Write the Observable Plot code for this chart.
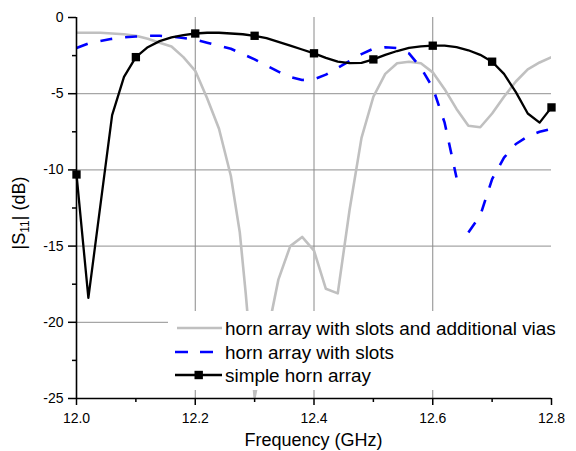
<!DOCTYPE html>
<html><head><meta charset="utf-8">
<script src="https://cdn.jsdelivr.net/npm/d3@7"></script>
<script src="https://cdn.jsdelivr.net/npm/@observablehq/plot@0.6"></script>
<style>
body{margin:0;background:#fff;}
#chart{width:576px;height:451px;}
</style></head><body><div id="chart"></div>
<script>
// ---- data ----
const freqSimple = [12.00,12.02,12.04,12.06,12.08,12.10,12.12,12.14,12.16,12.18,12.20,12.22,12.24,12.26,12.28,12.30,12.32,12.34,12.36,12.38,12.40,12.42,12.44,12.46,12.48,12.50,12.52,12.54,12.56,12.58,12.60,12.62,12.64,12.66,12.68,12.70,12.72,12.74,12.76,12.78,12.80];
const s11Simple  = [-10.3,-18.4,-12.4,-6.4,-3.9,-2.6,-1.95,-1.55,-1.3,-1.15,-1.05,-1.0,-1.0,-1.05,-1.1,-1.2,-1.35,-1.6,-1.85,-2.1,-2.35,-2.65,-2.9,-3.0,-2.98,-2.75,-2.45,-2.2,-2.0,-1.9,-1.85,-1.85,-1.95,-2.15,-2.45,-2.9,-3.7,-4.9,-6.3,-6.9,-5.9];
const markerFreqs = [12.0,12.1,12.2,12.3,12.4,12.5,12.6,12.7,12.8];

const freqSlots = [12.00,12.02,12.04,12.06,12.08,12.10,12.12,12.14,12.16,12.18,12.20,12.22,12.24,12.26,12.28,12.30,12.32,12.34,12.36,12.38,12.40,12.42,12.44,12.46,12.48,12.50,12.52,12.54,12.56,12.58,12.60,12.62,12.64,12.65,12.66,12.68,12.70,12.72,12.74,12.76,12.78,12.80];
const s11Slots  = [-2.0,-1.7,-1.55,-1.4,-1.3,-1.25,-1.2,-1.2,-1.25,-1.35,-1.45,-1.65,-1.85,-2.05,-2.4,-2.75,-3.15,-3.55,-3.9,-4.1,-4.05,-3.75,-3.3,-2.85,-2.4,-2.05,-1.95,-2.0,-2.35,-3.3,-4.6,-6.9,-10.5,NaN,-14.1,-13.0,-10.6,-9.2,-8.3,-7.8,-7.5,-7.3];

const freqVias = [12.00,12.04,12.08,12.10,12.12,12.14,12.16,12.18,12.20,12.22,12.24,12.26,12.275,12.285,12.30,12.34,12.36,12.38,12.40,12.42,12.44,12.46,12.48,12.50,12.52,12.54,12.56,12.58,12.60,12.62,12.64,12.66,12.68,12.70,12.72,12.74,12.76,12.78,12.80];
const s11Vias  = [-1.0,-1.0,-1.1,-1.2,-1.4,-1.65,-1.9,-2.6,-3.5,-5.3,-7.3,-10.4,-14.1,-18.1,-24.9,-17.2,-15.0,-14.4,-15.3,-17.8,-18.1,-12.6,-7.9,-5.2,-3.7,-3.0,-2.9,-3.0,-3.6,-4.7,-6.0,-7.1,-7.2,-6.3,-5.2,-4.2,-3.4,-2.95,-2.6];

const xMajor = [12.0,12.2,12.4,12.6,12.8];
const xMinor = [12.1,12.3,12.5,12.7];
const xGrid  = [12.2,12.4,12.6];
const yMajor = [0,-5,-10,-15,-20,-25];
const yMinor = [-2.5,-7.5,-12.5,-17.5,-22.5];
const yGrid  = [-5,-10,-15,-20];

const legendLabels = ["horn array with slots and additional vias","horn array with slots","simple horn array"];
const xLabel = "Frequency (GHz)";

// ---- tables ----
const simple = freqSimple.map((f,i)=>({f, s:s11Simple[i]}));
const slots  = freqSlots.map((f,i)=>({f, s:s11Slots[i]}));
const vias   = freqVias.map((f,i)=>({f, s:s11Vias[i]}));
const markers = simple.filter(d => markerFreqs.some(m => Math.abs(m-d.f) < 1e-6));

const font = "'Liberation Sans', Arial, Helvetica, sans-serif";
const W = 576, H = 451, mL = 76, mR = 25, mT = 17, mB = 53;

const plot = Plot.plot({
  width: W, height: H,
  marginLeft: mL, marginRight: mR, marginTop: mT, marginBottom: mB,
  style: {fontFamily: font, fontSize: "14px", color: "#000", background: "#fff"},
  x: {domain: [12.0, 12.8]},
  y: {domain: [-25, 0]},
  marks: [
    Plot.gridY(yGrid, {stroke: "#a6a6a6", strokeOpacity: 1, strokeWidth: 1.3}),
    Plot.gridX(xGrid, {stroke: "#8a8a8a", strokeOpacity: 1, strokeWidth: 1}),
    Plot.line(vias, {x: "f", y: "s", stroke: "#c0c0c0", strokeWidth: 2.6, clip: true}),
    Plot.line(slots, {x: "f", y: "s", stroke: "#0000ff", strokeWidth: 2.6, strokeDasharray: "12,13", strokeLinecap: "butt", strokeLinejoin: "miter", clip: true}),
    Plot.line(simple, {x: "f", y: "s", stroke: "#000", strokeWidth: 2.3}),
    Plot.dot(markers, {x: "f", y: "s", symbol: "square", fill: "#000", r: 4.7}),
    Plot.axisX(xMajor, {tickSize: 7, tickPadding: 8, tickFormat: d => d.toFixed(1), label: null, stroke: "#000", strokeWidth: 1.5, fontSize: 14}),
    Plot.axisX(xMinor, {tickSize: 4, fill: "none", label: null, stroke: "#000", strokeWidth: 1.5}),
    Plot.axisY(yMajor, {tickSize: 8, tickPadding: 5, tickFormat: d => String(d), label: null, stroke: "#000", strokeWidth: 1.5, fontSize: 14}),
    Plot.axisY(yMinor, {tickSize: 4, fill: "none", label: null, stroke: "#000", strokeWidth: 1.5}),
    Plot.ruleY([-25], {stroke: "#000", strokeWidth: 1.6}),
    Plot.ruleX([12.0], {stroke: "#000", strokeWidth: 1.6})
  ]
});

const svg = d3.select(plot);

// legend (inside frame, white box)
const lg = svg.append("g").attr("font-family", font).attr("text-anchor", "start");
lg.append("rect").attr("x", 168).attr("y", 311).attr("width", 392).attr("height", 79).attr("fill", "#ffffff").attr("stroke", "none");
const rowsY = [328, 352, 375];
lg.append("line").attr("x1", 177).attr("x2", 222).attr("y1", rowsY[0]).attr("y2", rowsY[0]).attr("stroke", "#c0c0c0").attr("stroke-width", 2.6);
lg.append("line").attr("x1", 175).attr("x2", 222).attr("y1", rowsY[1]).attr("y2", rowsY[1]).attr("stroke", "#0000ff").attr("stroke-width", 2.6).attr("stroke-dasharray", "13,12");
lg.append("line").attr("x1", 175).attr("x2", 222).attr("y1", rowsY[2]).attr("y2", rowsY[2]).attr("stroke", "#000").attr("stroke-width", 2.3);
lg.append("rect").attr("x", 194.5).attr("y", rowsY[2]-4.2).attr("width", 8.4).attr("height", 8.4).attr("fill", "#000");
legendLabels.forEach((t, i) => {
  lg.append("text").attr("x", 225).attr("y", rowsY[i]).attr("dy", "0.35em").attr("text-anchor", "start")
    .attr("font-size", 18.9).attr("fill", "#000").text(t);
});

// axis titles
svg.append("text").attr("x", mL + (W - mL - mR)/2).attr("y", 446).attr("text-anchor", "middle")
  .attr("font-family", font).attr("font-size", 18).attr("fill", "#000").text(xLabel);
const yl = svg.append("text").attr("transform", "translate(25,213) rotate(-90)").attr("text-anchor", "middle")
  .attr("font-family", font).attr("font-size", 18).attr("fill", "#000");
yl.append("tspan").text("|S");
yl.append("tspan").attr("font-size", 12).attr("dy", 4).text("11");
yl.append("tspan").attr("dy", -4).text("| (dB)");

document.getElementById("chart").appendChild(plot);
</script></body></html>
